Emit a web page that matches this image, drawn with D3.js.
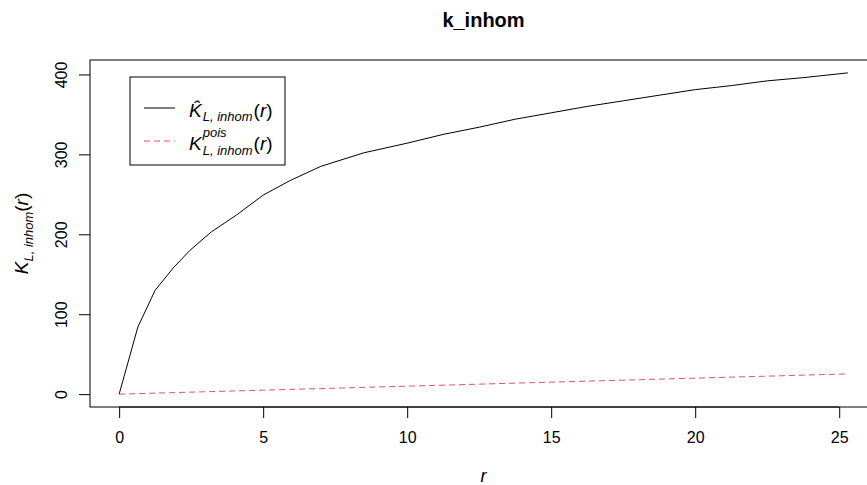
<!DOCTYPE html>
<html>
<head>
<meta charset="utf-8">
<title>k_inhom</title>
<style>
  body { margin: 0; background: #fff; }
  svg text { font-family: "Liberation Sans", Arial, sans-serif; fill: #000; }
</style>
</head>
<body>
<svg id="chart" width="867" height="485"></svg>
<script src="https://d3js.org/d3.v7.min.js"></script>
<script>
// values
const rValues = [0, 0.65, 1.25, 1.88, 2.46, 3.2, 4.07, 5.0, 5.92, 7.0, 8.5, 10.0, 11.25, 12.5, 13.75, 15.0, 16.25, 17.5, 18.75, 20.0, 21.25, 22.5, 23.75, 25.3]
const kHat = [0, 84, 130, 158, 180, 203, 224, 249, 267, 285, 302, 314, 325, 334, 344, 352, 360, 367, 374, 381, 386, 392, 396, 402]
const kPois = [0, 0.6, 1.3, 1.9, 2.5, 3.2, 4.1, 5.0, 5.9, 7.0, 8.5, 10.0, 11.2, 12.5, 13.8, 15.0, 16.3, 17.5, 18.8, 20.0, 21.3, 22.5, 23.8, 25.3]
const xTicks = [0, 5, 10, 15, 20, 25]
const yTicks = [0, 100, 200, 300, 400]
const chartTitle = "k_inhom"

const svg = d3.select("#chart")
const box = {left: 90, right: 877, top: 60, bottom: 407}

// R style 4% padding on both axes
const xMin = d3.min(rValues), xMax = d3.max(rValues)
const xPad = (xMax - xMin) * 0.04
const x = d3.scaleLinear().domain([xMin - xPad, xMax + xPad]).range([box.left, box.right])

const yMin = d3.min(kHat.concat(kPois)), yMax = d3.max(kHat.concat(kPois))
const yPad = (yMax - yMin) * 0.04
const y = d3.scaleLinear().domain([yMin - yPad, yMax + yPad]).range([box.bottom, box.top])

// plot frame
svg.append("rect")
    .attr("x", box.left).attr("y", box.top)
    .attr("width", box.right - box.left).attr("height", box.bottom - box.top)
    .attr("fill", "none").attr("stroke", "#000").attr("stroke-width", 1)

// x axis
let xAxis = d3.axisBottom(x).tickValues(xTicks).tickSize(11).tickPadding(14)
let gx = svg.append("g").attr("transform", `translate(0,${box.bottom})`).call(xAxis)
gx.select(".domain").remove()
gx.append("line").attr("x1", x(xTicks[0])).attr("x2", x(xTicks[xTicks.length - 1]))
    .attr("stroke", "#000")
gx.selectAll("text").style("font-size", "16px").style("font-family", "Liberation Sans, Arial, sans-serif")

// y axis, labels turned like R's las = 0
let yAxis = d3.axisLeft(y).tickValues(yTicks).tickSize(11)
let gy = svg.append("g").attr("transform", `translate(${box.left},0)`).call(yAxis)
gy.select(".domain").remove()
gy.selectAll("text")
    .attr("x", 0).attr("y", 0).attr("dy", 0)
    .attr("text-anchor", "middle")
    .attr("transform", "translate(-23,0) rotate(-90)")
    .style("font-size", "16px").style("font-family", "Liberation Sans, Arial, sans-serif")

// curves
let line = d3.line().x(d => x(d[0])).y(d => y(d[1]))
svg.append("path")
    .datum(rValues.map((r, i) => [r, kHat[i]]))
    .attr("d", line).attr("fill", "none").attr("stroke", "#000").attr("stroke-width", 1)
svg.append("path")
    .datum(rValues.map((r, i) => [r, kPois[i]]))
    .attr("d", line).attr("fill", "none").attr("stroke", "#DF536B").attr("stroke-width", 1)
    .attr("stroke-dasharray", "6,4")

// title and axis titles
svg.append("text").attr("x", (box.left + box.right) / 2).attr("y", 27)
    .attr("text-anchor", "middle").style("font-size", "20px").style("font-weight", "bold")
    .text(chartTitle)

svg.append("text").attr("x", (box.left + box.right) / 2).attr("y", 482)
    .attr("text-anchor", "middle").style("font-size", "18px").style("font-style", "italic")
    .text("r")

let yl = svg.append("text")
    .attr("text-anchor", "middle")
    .attr("transform", `translate(28,${(box.top + box.bottom) / 2}) rotate(-90)`)
    .style("font-size", "19px")
yl.append("tspan").style("font-style", "italic").text("K")
yl.append("tspan").attr("dy", 5).style("font-size", "13px").style("font-style", "italic").text("L, inhom")
yl.append("tspan").attr("dy", -5).text("(")
yl.append("tspan").style("font-style", "italic").text("r")
yl.append("tspan").text(")")

// legend
let legend = svg.append("g")
legend.append("rect").attr("x", 130).attr("y", 77).attr("width", 155).attr("height", 88)
    .attr("fill", "#fff").attr("stroke", "#000")
legend.append("line").attr("x1", 144).attr("x2", 175).attr("y1", 108).attr("y2", 108)
    .attr("stroke", "#000")
legend.append("line").attr("x1", 144).attr("x2", 175).attr("y1", 141).attr("y2", 141)
    .attr("stroke", "#DF536B").attr("stroke-dasharray", "6,4")

function addParenR(g, px, base) {
    let t = g.append("text").attr("x", px).attr("y", base).style("font-size", "19px")
    t.append("tspan").text("(")
    t.append("tspan").style("font-style", "italic").text("r")
    t.append("tspan").text(")")
}

// entry 1: K hat (combining circumflex keeps it one glyph cluster)
let k1 = legend.append("text").attr("x", 189).attr("y", 117)
    .style("font-size", "19px").style("font-style", "italic").text("K\u0302")
let w1 = k1.node().getComputedTextLength()
let s1 = legend.append("text").attr("x", 189 + w1 + 1).attr("y", 121)
    .style("font-size", "13px").style("font-style", "italic").text("L, inhom")
addParenR(legend, 189 + w1 + 1 + s1.node().getComputedTextLength() + 1, 117)

// entry 2: K pois
let k2 = legend.append("text").attr("x", 189).attr("y", 150)
    .style("font-size", "19px").style("font-style", "italic").text("K")
let w2 = k2.node().getComputedTextLength()
let sup2 = legend.append("text").attr("x", 189 + w2 + 1).attr("y", 137)
    .style("font-size", "13px").style("font-style", "italic").text("pois")
let sub2 = legend.append("text").attr("x", 189 + w2 + 1).attr("y", 155)
    .style("font-size", "13px").style("font-style", "italic").text("L, inhom")
let wStack = Math.max(sup2.node().getComputedTextLength(), sub2.node().getComputedTextLength())
addParenR(legend, 189 + w2 + 1 + wStack + 1, 150)
</script>
</body>
</html>
